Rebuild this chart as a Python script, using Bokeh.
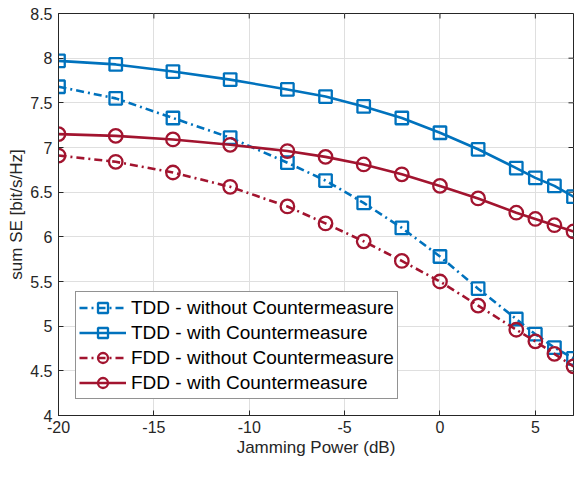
import math
from bokeh.plotting import figure
from bokeh.models import FixedTicker, Legend, LegendItem
from bokeh.embed import file_html
from bokeh.resources import INLINE

jamming_power = [-20, -17, -14, -11, -8, -6, -4, -2, 0, 2, 4, 5, 6, 7]
tdd_without = [7.68, 7.55, 7.33, 7.11, 6.83, 6.63, 6.38, 6.10, 5.78, 5.42, 5.08, 4.91, 4.76, 4.64]
tdd_with = [7.97, 7.93, 7.85, 7.76, 7.65, 7.57, 7.46, 7.33, 7.165, 6.98, 6.77, 6.66, 6.57, 6.45]
fdd_without = [6.91, 6.84, 6.72, 6.56, 6.34, 6.15, 5.95, 5.73, 5.50, 5.23, 4.96, 4.83, 4.69, 4.55]
fdd_with = [7.15, 7.13, 7.09, 7.03, 6.96, 6.895, 6.81, 6.70, 6.57, 6.43, 6.27, 6.20, 6.13, 6.06]

x_ticks = [-20, -15, -10, -5, 0, 5]
y_ticks = [4, 4.5, 5, 5.5, 6, 6.5, 7, 7.5, 8, 8.5]
x_tick_labels = ["-20", "-15", "-10", "-5", "0", "5"]
y_tick_labels = ["4", "4.5", "5", "5.5", "6", "6.5", "7", "7.5", "8", "8.5"]
x_min, x_max = -20, 7
y_min, y_max = 4, 8.5

BLUE = "#0072BD"
RED = "#A2142F"
AXC = "#262626"
FONT = "Liberation Sans"

p = figure(width=574, height=461, x_range=(x_min, x_max), y_range=(y_min, y_max),
           output_backend="svg", toolbar_location=None,
           min_border_left=58, min_border_right=1, min_border_top=13, min_border_bottom=46,
           x_axis_label="Jamming Power (dB)", y_axis_label="sum SE [bit/s/Hz]")
p.outline_line_color = AXC
p.outline_line_width = 1
p.background_fill_color = "white"

for ax in (p.xaxis[0], p.yaxis[0]):
    ax.axis_line_color = AXC
    ax.major_tick_line_color = AXC
    ax.major_tick_in = 5
    ax.major_tick_out = 0
    ax.minor_tick_line_color = None
    ax.major_label_text_font = FONT
    ax.major_label_text_font_size = "16px"
    ax.major_label_text_color = AXC
    ax.axis_label_text_font = FONT
    ax.axis_label_text_font_size = "17px"
    ax.axis_label_text_font_style = "normal"
    ax.axis_label_text_color = AXC
p.xaxis[0].ticker = FixedTicker(ticks=x_ticks)
p.yaxis[0].ticker = FixedTicker(ticks=y_ticks)
p.xaxis[0].major_label_overrides = dict(zip(x_ticks, x_tick_labels))
p.yaxis[0].major_label_overrides = dict(zip(y_ticks, y_tick_labels))
p.xaxis[0].major_label_standoff = 5
p.xaxis[0].axis_label_standoff = 2
p.yaxis[0].major_label_standoff = 6
p.yaxis[0].axis_label_standoff = 1

p.xgrid.ticker = FixedTicker(ticks=x_ticks)
p.ygrid.ticker = FixedTicker(ticks=y_ticks)
p.grid.grid_line_color = "#dfdfdf"
p.grid.grid_line_width = 1

# inward ticks on the top and right edges of the box
p.ray(x=x_ticks, y=[y_max] * len(x_ticks), length=5, length_units="screen",
      angle=-math.pi / 2, line_color=AXC, line_width=1)
p.ray(x=[x_max] * len(y_ticks), y=y_ticks, length=5, length_units="screen",
      angle=math.pi, line_color=AXC, line_width=1)

DASH = "8 4 2 4"
series = [
    ("TDD - without Countermeasure", tdd_without, BLUE, DASH, "square"),
    ("TDD - with Countermeasure", tdd_with, BLUE, "solid", "square"),
    ("FDD - without Countermeasure", fdd_without, RED, DASH, "circle"),
    ("FDD - with Countermeasure", fdd_with, RED, "solid", "circle"),
]
items = []
for label, ys, color, dash, marker in series:
    r1 = p.line(jamming_power, ys, line_color=color, line_width=2.6, line_dash=dash)
    r2 = p.scatter(jamming_power, ys, marker=marker, size=12.5 if marker == "square" else 13.5,
                   line_color=color, line_width=2.3, fill_alpha=0)
    items.append(LegendItem(label=label, renderers=[r1, r2]))

legend = Legend(items=items, location=(17, 16))
legend.label_text_font = FONT
legend.label_text_font_size = "19px"
legend.label_text_color = "black"
legend.glyph_width = 47
legend.glyph_height = 25
legend.label_height = 25
legend.label_standoff = 5
legend.spacing = 0
legend.padding = 3
legend.margin = 0
legend.border_line_color = AXC
legend.border_line_width = 1
legend.background_fill_alpha = 1
p.add_layout(legend, "center")

open("out.html", "w").write(file_html(p, INLINE))
